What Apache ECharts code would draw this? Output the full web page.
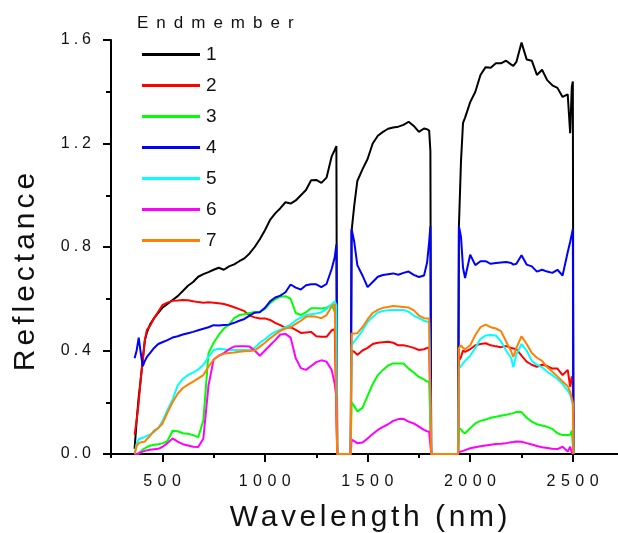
<!DOCTYPE html>
<html>
<head>
<meta charset="utf-8">
<script src="https://cdn.jsdelivr.net/npm/echarts@6/dist/echarts.min.js"></script>
<style>html,body{margin:0;padding:0;background:#fff;}#chart{width:618px;height:533px;}</style>
</head>
<body>
<div id="chart"></div>
<script>
// ---- data ----
const wavelengths = [365,375,385,395,405,415,425,440,460,480,500,525,550,575,600,625,650,675,700,725,750,775,800,825,850,875,900,925,950,975,1000,1025,1050,1075,1100,1125,1150,1175,1200,1225,1250,1275,1300,1325,1340,1348,
1352,1418,
1422,1435,1450,1475,1500,1525,1550,1575,1600,1625,1650,1675,1700,1725,1750,1775,1790,1800,1806,
1810,1941,
1945,1955,1965,1975,2000,2025,2050,2075,2100,2125,2150,2175,2200,2210,2225,2250,2275,2300,2325,2350,2375,2400,2425,2450,2475,2487,2495,2500,
2503];

const endmember1 = [0.02,0.13,0.22,0.29,0.37,0.44,0.47,0.50,0.525,0.545,0.565,0.58,0.595,0.61,0.63,0.65,0.665,0.685,0.695,0.703,0.712,0.72,0.712,0.725,0.733,0.745,0.756,0.775,0.80,0.83,0.865,0.905,0.93,0.95,0.973,0.968,0.98,1.0,1.02,1.058,1.059,1.048,1.068,1.15,1.175,1.19,
0,0,
0.86,0.96,1.055,1.10,1.14,1.20,1.23,1.245,1.257,1.262,1.265,1.272,1.284,1.268,1.245,1.258,1.255,1.25,1.17,
0,0,
0.88,1.13,1.28,1.30,1.36,1.40,1.465,1.495,1.493,1.51,1.51,1.52,1.505,1.50,1.515,1.59,1.525,1.52,1.465,1.485,1.445,1.425,1.415,1.38,1.39,1.24,1.42,1.44,
0];

const endmember2 = [0.075,0.13,0.20,0.29,0.36,0.44,0.48,0.495,0.525,0.55,0.575,0.585,0.592,0.593,0.595,0.594,0.59,0.587,0.585,0.586,0.585,0.583,0.58,0.574,0.567,0.56,0.552,0.535,0.528,0.524,0.524,0.518,0.507,0.498,0.487,0.49,0.48,0.468,0.47,0.472,0.455,0.453,0.453,0.478,0.482,0.48,
0,0,
0.40,0.395,0.383,0.40,0.41,0.425,0.43,0.432,0.434,0.43,0.42,0.42,0.416,0.41,0.402,0.405,0.41,0.412,0.41,
0,0,
0.36,0.375,0.40,0.395,0.405,0.42,0.425,0.428,0.42,0.416,0.413,0.417,0.41,0.408,0.405,0.38,0.357,0.345,0.337,0.345,0.34,0.33,0.33,0.305,0.325,0.26,0.30,0.28,
0];

const endmember3 = [0,0,0.003,0.01,0.017,0.022,0.027,0.032,0.036,0.038,0.041,0.05,0.09,0.088,0.08,0.078,0.073,0.065,0.13,0.39,0.43,0.46,0.485,0.50,0.525,0.537,0.54,0.545,0.549,0.55,0.56,0.583,0.598,0.608,0.61,0.60,0.545,0.537,0.548,0.563,0.563,0.562,0.565,0.577,0.55,0.54,
0,0,
0.20,0.185,0.165,0.178,0.225,0.27,0.305,0.325,0.342,0.35,0.35,0.35,0.33,0.315,0.298,0.288,0.28,0.28,0.28,
0,0,
0.10,0.095,0.085,0.08,0.10,0.118,0.128,0.133,0.14,0.144,0.148,0.152,0.156,0.158,0.163,0.162,0.14,0.125,0.115,0.11,0.105,0.097,0.08,0.073,0.073,0.074,0.09,0.095,
0];

const endmember4 = [0.37,0.40,0.45,0.39,0.34,0.36,0.375,0.39,0.41,0.425,0.432,0.44,0.45,0.455,0.462,0.467,0.472,0.478,0.484,0.49,0.498,0.497,0.499,0.50,0.507,0.515,0.522,0.535,0.546,0.548,0.565,0.59,0.605,0.612,0.625,0.655,0.643,0.636,0.652,0.656,0.656,0.645,0.657,0.715,0.76,0.81,
0,0,
0.87,0.82,0.73,0.69,0.645,0.665,0.685,0.692,0.695,0.698,0.693,0.70,0.705,0.692,0.684,0.69,0.74,0.82,0.88,
0,0,
0.88,0.84,0.72,0.68,0.77,0.73,0.745,0.745,0.735,0.738,0.74,0.742,0.738,0.732,0.735,0.768,0.732,0.725,0.705,0.712,0.705,0.70,0.712,0.69,0.78,0.82,0.85,0.87,
0];

const endmember5 = [0.005,0.04,0.057,0.06,0.063,0.066,0.07,0.075,0.085,0.10,0.125,0.17,0.21,0.265,0.29,0.305,0.315,0.327,0.345,0.375,0.402,0.407,0.405,0.402,0.402,0.402,0.402,0.403,0.41,0.43,0.443,0.46,0.472,0.48,0.49,0.50,0.516,0.527,0.537,0.54,0.543,0.548,0.56,0.578,0.59,0.575,
0,0,
0.42,0.435,0.45,0.477,0.51,0.53,0.547,0.553,0.556,0.557,0.557,0.557,0.55,0.535,0.525,0.515,0.512,0.508,0.505,
0,0,
0.33,0.34,0.35,0.36,0.38,0.41,0.445,0.458,0.46,0.458,0.435,0.40,0.37,0.335,0.385,0.425,0.40,0.36,0.345,0.335,0.318,0.305,0.29,0.27,0.245,0.23,0.205,0.19,
0];

const endmember6 = [0,0,0.002,0.006,0.009,0.012,0.014,0.016,0.018,0.02,0.027,0.042,0.06,0.048,0.038,0.033,0.028,0.027,0.06,0.265,0.365,0.38,0.39,0.405,0.415,0.416,0.416,0.415,0.40,0.38,0.40,0.42,0.44,0.462,0.464,0.45,0.37,0.332,0.325,0.34,0.355,0.362,0.357,0.325,0.27,0.22,
0,0,
0.055,0.05,0.042,0.044,0.06,0.077,0.093,0.105,0.115,0.128,0.135,0.136,0.125,0.118,0.106,0.093,0.088,0.086,0.085,
0,0,
0.008,0.01,0.012,0.015,0.022,0.026,0.03,0.033,0.036,0.039,0.04,0.042,0.045,0.046,0.048,0.047,0.042,0.037,0.031,0.026,0.023,0.02,0.019,0.028,0.01,0.028,0.006,0.01,
0];

const endmember7 = [0,0.03,0.042,0.045,0.046,0.048,0.058,0.07,0.09,0.10,0.117,0.16,0.20,0.233,0.255,0.268,0.28,0.292,0.305,0.338,0.365,0.38,0.387,0.39,0.392,0.395,0.397,0.398,0.40,0.415,0.43,0.447,0.462,0.476,0.485,0.49,0.503,0.515,0.53,0.532,0.53,0.525,0.537,0.57,0.58,0.582,
0,0,
0.466,0.466,0.467,0.49,0.52,0.545,0.557,0.565,0.568,0.572,0.57,0.568,0.566,0.555,0.535,0.525,0.524,0.524,0.522,
0,0,
0.41,0.42,0.41,0.405,0.42,0.46,0.49,0.50,0.49,0.485,0.475,0.435,0.395,0.375,0.41,0.455,0.425,0.39,0.372,0.36,0.335,0.318,0.30,0.28,0.262,0.24,0.215,0.2,
0];

const seriesNames = ['1','2','3','4','5','6','7'];
const seriesValues = [endmember1, endmember2, endmember3, endmember4, endmember5, endmember6, endmember7];
const seriesColors = ['#000000','#ff0000','#00ff00','#0000ff','#00ffff','#ff00ff','#ff8000'];
const xMajorTicks = [500,1000,1500,2000,2500];
const xMinorTicks = [250,750,1250,1750,2250];
const xRange = [250, 2720];
const yRange = [0, 1.6];
const legendTitle = 'Endmember';
const xTitle = 'Wavelength (nm)';
const yTitle = 'Reflectance';

// letter spacing helper: a marker family "lsN" (N px, p = decimal point) in the font list
(function(){
  const P = CanvasRenderingContext2D.prototype;
  if (!('letterSpacing' in P)) return;
  function sp(ctx){
    const m = /ls(\d+(?:p\d+)?)/.exec(ctx.font || '');
    const v = m ? m[1].replace('p','.') + 'px' : '0px';
    if (ctx.letterSpacing !== v) ctx.letterSpacing = v;
  }
  const ft = P.fillText, mt = P.measureText, st = P.strokeText;
  P.fillText = function(){ sp(this); return ft.apply(this, arguments); };
  P.strokeText = function(){ sp(this); return st.apply(this, arguments); };
  P.measureText = function(){ sp(this); return mt.apply(this, arguments); };
})();

const FF = "'Liberation Sans', Arial";
const chart = echarts.init(document.getElementById('chart'), null, {renderer:'canvas'});
const black2 = () => ({color: '#000', width: 2});

const option = {
  animation: false,
  grid: {left: 111, top: 40, right: 0, bottom: 79, outerBoundsMode: 'none'},
  legend: {
    orient: 'vertical', left: 137, top: 40,
    icon: 'rect', itemWidth: 58, itemHeight: 3, itemGap: 12,
    textStyle: {fontSize: 19, color: '#111', fontFamily: FF, padding: [0,0,0,1]},
    data: seriesNames
  },
  graphic: [{
    type: 'text', left: 137, top: 11,
    style: {text: legendTitle, fontSize: 17, fontFamily: FF + ', ls8', fill: '#111'}
  }],
  xAxis: [{
    type: 'value', min: xRange[0], max: xRange[1], position: 'bottom', z: 1,
    name: xTitle, nameLocation: 'middle', nameGap: 47,
    nameTextStyle: {fontSize: 30, color: '#111', fontFamily: FF + ', ls3p6', padding: [0,0,0,12]},
    axisLine: {show: true, onZero: false, lineStyle: black2()},
    axisTick: {show: true, customValues: xMajorTicks, length: 8, lineStyle: black2()},
    axisLabel: {show: true, customValues: xMajorTicks, margin: 17, fontSize: 16, color: '#111',
      fontFamily: FF + ', ls5p5', padding: [0,0,0,5], formatter: v => String(v)},
    splitLine: {show: false}
  }, {
    type: 'value', min: xRange[0], max: xRange[1], position: 'bottom', gridIndex: 0, z: 1,
    axisLine: {show: false},
    axisTick: {show: true, customValues: xMinorTicks, length: 4, lineStyle: black2()},
    axisLabel: {show: false},
    splitLine: {show: false}
  }],
  yAxis: {
    type: 'value', min: yRange[0], max: yRange[1], interval: 0.4, z: 1,
    name: yTitle, nameLocation: 'middle', nameGap: 68, nameRotate: 90,
    nameTextStyle: {fontSize: 30, color: '#111', fontFamily: FF + ', ls4', padding: [0,46,0,0]},
    axisLine: {show: true, onZero: false, lineStyle: black2()},
    axisTick: {show: true, length: 8, lineStyle: black2()},
    minorTick: {show: true, splitNumber: 2, length: 5, lineStyle: black2()},
    axisLabel: {margin: 16, fontSize: 16, color: '#111', fontFamily: FF + ', ls4', padding: [5,0,0,0],
      formatter: v => v.toFixed(1)},
    splitLine: {show: false},
    minorSplitLine: {show: false}
  },
  series: seriesNames.map((n, k) => {
    const s = {
      name: n, type: 'line', xAxisIndex: 0, yAxisIndex: 0,
      symbol: 'none', showSymbol: false, clip: false,
      lineStyle: {color: seriesColors[k], width: 2},
      itemStyle: {color: seriesColors[k]},
      data: wavelengths.map((w, i) => [w, seriesValues[k][i]])
    };
    if (k === 0) {
      // axis frame lines drawn through the axis scales (left and bottom edges)
      s.markLine = {
        silent: true, symbol: 'none', z: 1, animation: false,
        label: {show: false},
        lineStyle: {type: 'solid', color: '#000', width: 2},
        emphasis: {disabled: true},
        data: [{xAxis: xRange[0]}, {yAxis: yRange[0]}]
      };
    }
    return s;
  })
};
chart.setOption(option);
</script>
</body>
</html>
